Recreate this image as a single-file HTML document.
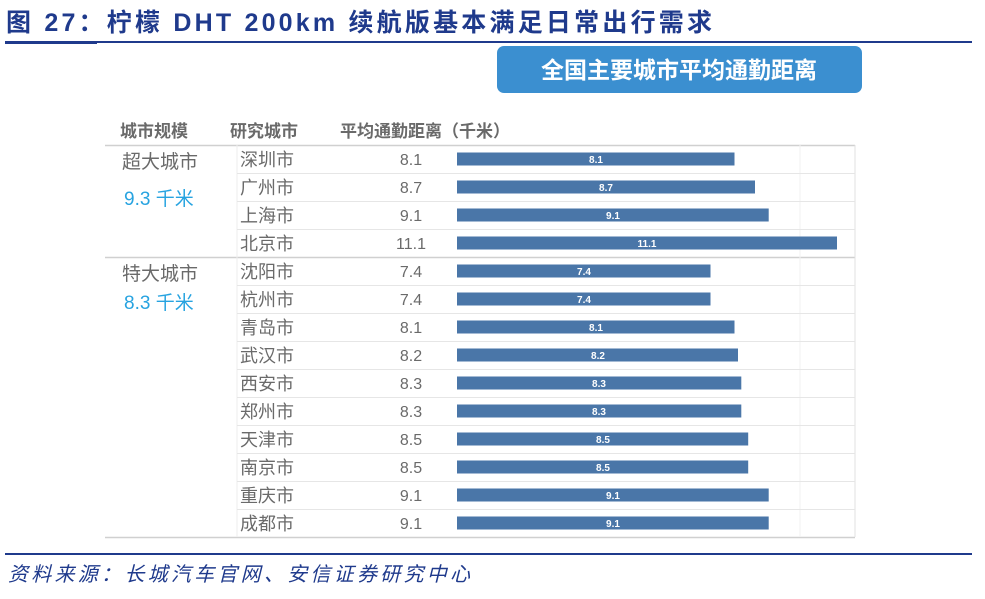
<!DOCTYPE html>
<html><head><meta charset="utf-8"><style>
html,body{margin:0;padding:0;background:#fff;}
body{width:985px;height:594px;overflow:hidden;}
</style></head><body>
<svg width="985" height="594" xmlns="http://www.w3.org/2000/svg" font-family="'Liberation Sans','Noto Sans CJK SC',sans-serif">
<text x="6" y="31" font-size="25" font-weight="bold" fill="#1f3a8c" textLength="706" lengthAdjust="spacing">图 27：柠檬 DHT 200km 续航版基本满足日常出行需求</text>
<rect x="5" y="41" width="967" height="2" fill="#1f3a8c"/>
<rect x="5" y="41" width="92" height="3" fill="#1f3a8c"/>
<rect x="497" y="46" width="365" height="47" rx="7" fill="#3b8fd0"/>
<text x="679" y="78" font-size="23" font-weight="bold" fill="#fff" text-anchor="middle">全国主要城市平均通勤距离</text>
<g font-size="17" fill="#6a6a6a" font-weight="bold">
<text x="120" y="137">城市规模</text><text x="230" y="137">研究城市</text><text x="340" y="137">平均通勤距离（千米）</text>
</g>
<line x1="105" y1="145.5" x2="855" y2="145.5" stroke="#d0d0d0" stroke-width="1.5"/>
<line x1="105" y1="257.5" x2="855" y2="257.5" stroke="#d0d0d0" stroke-width="1.5"/>
<line x1="105" y1="537.5" x2="855" y2="537.5" stroke="#d0d0d0" stroke-width="1.5"/>
<line x1="855" y1="145" x2="855" y2="537" stroke="#e0e0e0"/>
<line x1="800" y1="145" x2="800" y2="537" stroke="#f2f2f2"/>
<line x1="237" y1="145" x2="237" y2="537" stroke="#eeeeee"/>
<g stroke="#e6e6e6">
<line x1="237" y1="173.5" x2="855" y2="173.5"/><line x1="237" y1="201.5" x2="855" y2="201.5"/><line x1="237" y1="229.5" x2="855" y2="229.5"/>
<line x1="237" y1="285.5" x2="855" y2="285.5"/><line x1="237" y1="313.5" x2="855" y2="313.5"/><line x1="237" y1="341.5" x2="855" y2="341.5"/>
<line x1="237" y1="369.5" x2="855" y2="369.5"/><line x1="237" y1="397.5" x2="855" y2="397.5"/><line x1="237" y1="425.5" x2="855" y2="425.5"/>
<line x1="237" y1="453.5" x2="855" y2="453.5"/><line x1="237" y1="481.5" x2="855" y2="481.5"/><line x1="237" y1="509.5" x2="855" y2="509.5"/>
</g>
<g font-size="18" fill="#6a6a6a">
<text x="240" y="166">深圳市</text><text x="240" y="194">广州市</text><text x="240" y="222">上海市</text><text x="240" y="250">北京市</text>
<text x="240" y="278">沈阳市</text><text x="240" y="306">杭州市</text><text x="240" y="334">青岛市</text><text x="240" y="362">武汉市</text>
<text x="240" y="390">西安市</text><text x="240" y="418">郑州市</text><text x="240" y="446">天津市</text><text x="240" y="474">南京市</text>
<text x="240" y="502">重庆市</text><text x="240" y="530">成都市</text>
</g>
<g font-size="16" fill="#6a6a6a" text-anchor="middle">
<text x="411" y="165">8.1</text><text x="411" y="193">8.7</text><text x="411" y="221">9.1</text><text x="411" y="249">11.1</text>
<text x="411" y="277">7.4</text><text x="411" y="305">7.4</text><text x="411" y="333">8.1</text><text x="411" y="361">8.2</text>
<text x="411" y="389">8.3</text><text x="411" y="417">8.3</text><text x="411" y="445">8.5</text><text x="411" y="473">8.5</text>
<text x="411" y="501">9.1</text><text x="411" y="529">9.1</text>
</g>
<g fill="#4a76a8">
<rect x="457" y="152.5" width="277.5" height="13"/><rect x="457" y="180.5" width="298" height="13"/>
<rect x="457" y="208.5" width="311.7" height="13"/><rect x="457" y="236.5" width="380" height="13"/>
<rect x="457" y="264.5" width="253.5" height="13"/><rect x="457" y="292.5" width="253.5" height="13"/>
<rect x="457" y="320.5" width="277.5" height="13"/><rect x="457" y="348.5" width="281" height="13"/>
<rect x="457" y="376.5" width="284.3" height="13"/><rect x="457" y="404.5" width="284.3" height="13"/>
<rect x="457" y="432.5" width="291.2" height="13"/><rect x="457" y="460.5" width="291.2" height="13"/>
<rect x="457" y="488.5" width="311.7" height="13"/><rect x="457" y="516.5" width="311.7" height="13"/>
</g>
<g font-size="10" font-weight="bold" fill="#fff" text-anchor="middle">
<text x="596" y="163">8.1</text><text x="606" y="191">8.7</text><text x="613" y="219">9.1</text><text x="647" y="247">11.1</text>
<text x="584" y="275">7.4</text><text x="584" y="303">7.4</text><text x="596" y="331">8.1</text><text x="598" y="359">8.2</text>
<text x="599" y="387">8.3</text><text x="599" y="415">8.3</text><text x="603" y="443">8.5</text><text x="603" y="471">8.5</text>
<text x="613" y="499">9.1</text><text x="613" y="527">9.1</text>
</g>
<g font-size="19" fill="#6a6a6a">
<text x="122" y="168">超大城市</text><text x="122" y="280">特大城市</text>
</g>
<g font-size="19" fill="#27a3e0">
<text x="124" y="205">9.3 千米</text><text x="124" y="309">8.3 千米</text>
</g>
<rect x="5" y="553" width="967" height="2" fill="#1f3a8c"/>
<text x="8" y="581" font-size="20" font-style="italic" fill="#1f3a8c" textLength="462" lengthAdjust="spacing">资料来源：长城汽车官网、安信证券研究中心</text>
</svg>
</body></html>
